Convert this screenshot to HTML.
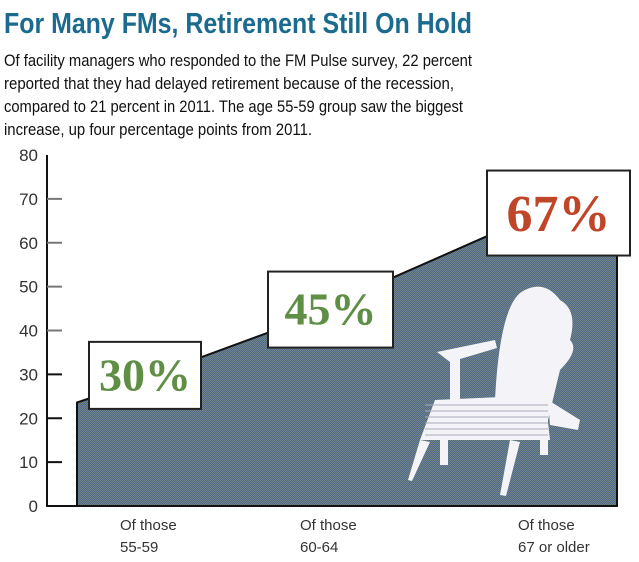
<!DOCTYPE html>
<html><head><meta charset="utf-8"><style>
body{margin:0;background:#fff;width:639px;height:562px;overflow:hidden}
svg{display:block}
</style></head><body>
<svg width="639" height="562" font-family="'Liberation Sans', sans-serif">
<defs>
<pattern id="dith" width="2" height="2" patternUnits="userSpaceOnUse">
<rect width="2" height="2" fill="#52698a"/><rect width="1" height="1" fill="#6f8585"/><rect x="1" y="1" width="1" height="1" fill="#6f8585"/>
</pattern>
</defs>
<text x="4" y="33" font-size="29" font-weight="bold" fill="#1b6b8f" textLength="468" lengthAdjust="spacingAndGlyphs">For Many FMs, Retirement Still On Hold</text>
<g font-size="17" fill="#111">
<text x="4" y="66" textLength="468" lengthAdjust="spacingAndGlyphs">Of facility managers who responded to the FM Pulse survey, 22 percent</text>
<text x="4" y="89" textLength="450" lengthAdjust="spacingAndGlyphs">reported that they had delayed retirement because of the recession,</text>
<text x="4" y="112" textLength="459" lengthAdjust="spacingAndGlyphs">compared to 21 percent in 2011. The age 55-59 group saw the biggest</text>
<text x="4" y="135" textLength="308" lengthAdjust="spacingAndGlyphs">increase, up four percentage points from 2011.</text>
</g>
<g id="chart"></g>
</svg>
<script>
const categories1=["Of those","Of those","Of those"];
const categories2=["55-59","60-64","67 or older"];
const values=[30,45,67];
const yTicks=[0,10,20,30,40,50,60,70,80];
const boxColors=["#5e8f45","#5e8f45","#c0462a"];
const NS="http://www.w3.org/2000/svg";
const g=document.getElementById('chart');
const y0=506,y80=155;
function y(v){return y0-(y0-y80)*v/80;}
const boxLeft=[89,268,487], boxW=[112,125,143], boxH=[67,76,85];
const catX=[120,300,518];
function mk(t,a,p){const e=document.createElementNS(NS,t);for(const k in a)e.setAttribute(k,a[k]);(p||g).appendChild(e);return e;}
let pts=[[77,y0],[77,y(values[0]-5.5)+4]];
values.forEach((v,i)=>pts.push([boxLeft[i],y(v-5.5)]));
pts.push([617,y(values[2]-5.5)]);pts.push([617,y0]);
const area=mk('polygon',{points:pts.map(p=>p.join(',')).join(' '),fill:'url(#dith)',stroke:'#111','stroke-width':2});


const ch=mk('g',{fill:'#f4f4f8'});


mk('path',{d:'M495 400 Q500 300 525 290 Q545 280 560 300 Q578 310 570 340 Q580 350 560 370 L548 420 L520 420 Z'},ch);
mk('path',{d:'M437 352 L495 340 L497 348 L450 362 Z'},ch);
mk('rect',{x:450,y:355,width:10,height:45},ch);
mk('path',{d:'M548 400 L580 420 L578 430 L550 425 Z'},ch);
mk('path',{d:'M435 400 L545 395 L550 440 L420 440 Z'},ch);
mk('path',{d:'M420 440 L408 480 L412 481 L430 442 Z'},ch);
mk('path',{d:'M510 440 L500 495 L506 496 L520 442 Z'},ch);
mk('rect',{x:540,y:400,width:8,height:55},ch);
mk('rect',{x:440,y:440,width:8,height:25},ch);
for(let i=0;i<6;i++)mk('line',{x1:425,y1:405+i*6,x2:548,y2:403+i*6+2,stroke:'#aab','stroke-width':1},ch);
const ax=mk('g',{});


mk('line',{x1:47,y1:155,x2:47,y2:507,stroke:'#111','stroke-width':2},ax);
mk('line',{x1:46,y1:506,x2:617,y2:506,stroke:'#111','stroke-width':2},ax);
yTicks.forEach(t=>{
  if(t>0&&t<80){mk('line',{x1:47,y1:y(t),x2:62,y2:y(t),stroke:t>=40?'#777':'#111','stroke-width':2},ax);}
  const tx=mk('text',{x:38,y:y(t)+6,'font-size':17,fill:'#333','text-anchor':'end'},ax);
  tx.textContent=t;
  
  
});
values.forEach((v,i)=>{
  const bg=mk('g',{});
  
  
  const cy=y(v)+1;
  mk('rect',{x:boxLeft[i],y:cy-boxH[i]/2,width:boxW[i],height:boxH[i],fill:'#fff',stroke:'#222','stroke-width':2},bg);
  const t=mk('text',{x:boxLeft[i]+boxW[i]/2,y:cy+(i===2?18:15),'text-anchor':'middle','font-family':"'Liberation Serif', serif",'font-weight':'bold','font-size':i===2?52:46,fill:boxColors[i]},bg);
  t.textContent=v+'%';
});
catX.forEach((x,i)=>{
  const t1=mk('text',{x:x,y:530,'font-size':15,fill:'#333'});
  t1.textContent=categories1[i];
  
  
  const t2=mk('text',{x:x,y:552,'font-size':15,fill:'#333'});
  t2.textContent=categories2[i];
  
  
});
</script>
</body></html>
